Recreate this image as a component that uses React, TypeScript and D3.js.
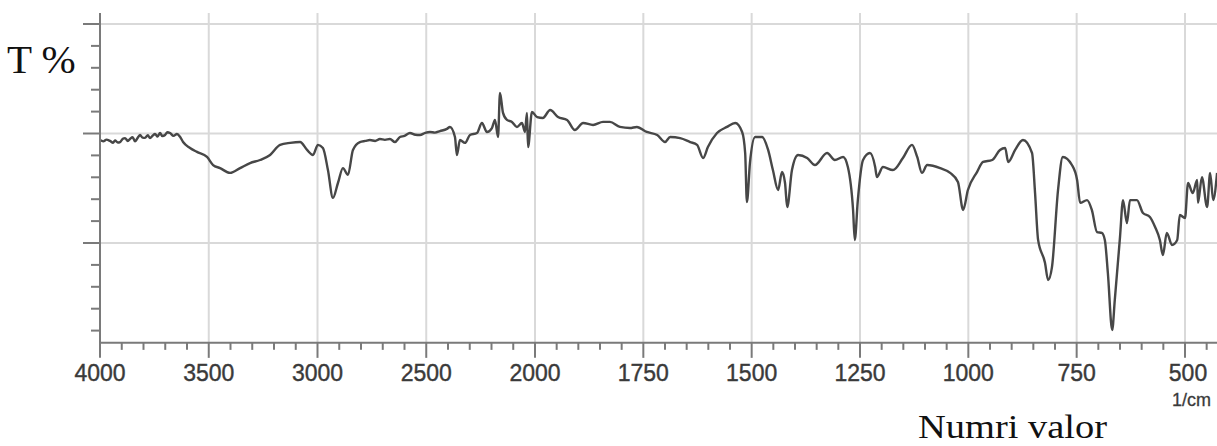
import React from "react";
import * as d3 from "d3";

// Wavenumbers (1/cm) and transmittance (T %, arbitrary scale)
const wavenumbers = [
  4000, 3985, 3970, 3954, 3940, 3931, 3918, 3908, 3895, 3885, 3872, 3862, 3850, 3839, 3828, 3816, 3804, 3793, 3780, 3770,
  3758, 3747, 3735, 3724, 3713, 3701, 3690, 3678, 3662, 3646, 3632,
  3618, 3586, 3554, 3508, 3480, 3448, 3402, 3356, 3310, 3264, 3218, 3172, 3126, 3080, 3048, 3021, 2998, 2975, 2952, 2929,
  2906, 2883, 2860, 2837, 2805, 2780, 2759, 2735, 2713, 2690, 2667, 2644, 2621, 2600, 2575, 2550, 2529, 2505, 2483, 2460,
  2437, 2405, 2391, 2368, 2359, 2345, 2322,
  2299, 2267, 2244, 2221, 2198, 2184, 2170, 2161, 2147, 2129, 2106, 2083, 2060, 2046, 2037, 2032, 2014, 1995, 1982, 1965,
  1947, 1926, 1908, 1889, 1866, 1843, 1827, 1804, 1781, 1765, 1742, 1718, 1700, 1688, 1665, 1642, 1626, 1612, 1601, 1580,
  1557, 1538, 1522, 1515, 1511, 1504, 1492, 1476, 1462, 1451, 1439, 1430, 1423, 1418, 1407, 1393, 1372, 1354, 1326, 1308,
  1289, 1278, 1266, 1262, 1255, 1243, 1227, 1215, 1211, 1197, 1174, 1151, 1130, 1118, 1107, 1095, 1065, 1042, 1024, 1012,
  1001, 980, 966, 945, 927, 915, 908, 892, 874, 853, 846, 839, 823, 816, 807, 793, 782, 761, 749, 742,
  726, 715, 703, 692, 685, 678, 668, 662, 650, 643, 634, 627, 611, 597, 581, 569, 558, 551, 542, 530,
  518, 512, 500, 493, 482, 472, 470, 461, 449, 442, 435, 426,
];
const transmittance = [
  47.0, 46.4, 47.2, 46.6, 45.8, 46.8, 45.9, 46.1, 47.6, 47.9, 46.6, 47.5, 48.3, 46.4, 47.8, 49.3, 48.1, 48.0, 49.2, 47.9,
  49.0, 49.8, 48.6, 50.2, 48.8, 49.3, 50.6, 50.2, 48.9, 49.8, 48.5,
  46.1, 43.4, 41.6, 39.3, 35.6, 34.2, 32.0, 34.2, 36.5, 37.9, 40.2, 44.8, 45.7, 46.1, 42.5, 40.2, 44.8, 43.4, 33.3, 20.6,
  27.4, 34.2, 31.1, 42.5, 46.1, 46.6, 47.0, 46.6, 47.5, 47.1, 47.5, 46.1, 48.4, 48.9, 50.2, 49.4, 49.3, 50.3, 50.7, 50.4,
  51.1, 52.1, 53.0, 48.4, 40.2, 47.0, 45.7,
  49.3, 50.2, 54.8, 50.7, 52.5, 56.2, 48.4, 68.5, 59.4, 56.2, 55.3, 53.0, 54.8, 50.7, 59.4, 43.8, 59.8, 57.5, 57.1, 60.7,
  57.5, 56.2, 51.6, 54.8, 53.9, 55.3, 55.3, 53.0, 52.5, 53.0, 50.7, 49.3, 46.1, 48.4, 47.9, 46.1, 44.8, 38.8, 43.8, 50.2,
  53.0, 54.8, 50.7, 41.1, 18.7, 36.5, 48.4, 48.4, 42.5, 33.3, 24.2, 32.4, 27.4, 16.4, 33.3, 40.2, 38.8, 35.6, 41.1, 37.9,
  39.3, 34.7, 15.1, 1.4, 19.6, 37.9, 41.1, 34.7, 30.1, 34.7, 33.3, 38.8, 44.8, 39.3, 32.0, 35.6, 34.2, 32.0, 27.9, 15.1,
  24.2, 32.4, 37.0, 37.9, 42.5, 43.4, 37.0, 42.5, 47.0, 41.1, 22.8, 1.4, -9.1, -16.9, -11.0, 24.2, 39.3, 35.6, 28.8, 18.3,
  19.6, 15.1, 5.0, 4.6, 1.4, -13.7, -39.7, -26.0, 2.7, 19.6, 9.1, 19.6, 19.6, 13.7, 11.9, 7.3, 1.4, -5.5, 4.6, -0.9,
  1.4, 12.8, 11.4, 27.4, 22.8, 28.8, 18.3, 30.1, 16.4, 32.0, 19.6, 32.0,
];

const xMajorTicks = [4000, 3500, 3000, 2500, 2000, 1750, 1500, 1250, 1000, 750, 500];
const xTickLabels = ["4000", "3500", "3000", "2500", "2000", "1750", "1500", "1250", "1000", "750", "500"];
const yMajorTicks = [100, 50, 0];
const yMinorTicks = [100, 90, 80, 70, 60, 50, 40, 30, 20, 10, 0, -10, -20, -30, -40];
const xMinorTicks = [
  ...d3.range(4000, 2000, -100),
  ...d3.range(2000, 400, -50),
];

export default function App() {
  const W = 1217;
  const H = 446;
  const x = d3.scaleLinear().domain([4000, 2000, 500]).range([100, 535, 1185]);
  const y = d3.scaleLinear().domain([100, 0]).range([24, 243]);
  const yTop = y(105);
  const yBottom = y(-45.6);
  const xLeft = x(4000);

  const pts: [number, number][] = wavenumbers.map((w, i) => [w, transmittance[i]]);
  const line = d3
    .line<[number, number]>()
    .x((d) => x(d[0]))
    .y((d) => y(d[1]))
    .curve(d3.curveMonotoneX);

  const gridColor = "#d9d9d9";
  const axisColor = "#7a7a7a";
  const labelColor = "#3a3a3a";

  return (
    <svg
      width={W}
      height={H}
      style={{ position: "absolute", left: 0, top: 0, background: "#fff" }}
    >
      <rect x={0} y={0} width={W} height={H} fill="#fff" />
      {yMajorTicks.map((v) => (
        <line key={"hg" + v} x1={xLeft} x2={W} y1={y(v)} y2={y(v)} stroke={gridColor} strokeWidth={2} />
      ))}
      {xMajorTicks.slice(1).map((v) => (
        <line key={"vg" + v} x1={x(v)} x2={x(v)} y1={yTop} y2={yBottom} stroke={gridColor} strokeWidth={2} />
      ))}
      <path d={line(pts) || ""} fill="none" stroke="#474747" strokeWidth={2.4} strokeLinejoin="round" />
      <line x1={xLeft} x2={xLeft} y1={yTop} y2={yBottom + 1} stroke={axisColor} strokeWidth={2} />
      {yMinorTicks.map((v) => (
        <line
          key={"yt" + v}
          x1={yMajorTicks.includes(v) ? xLeft - 17 : xLeft - 9}
          x2={xLeft}
          y1={y(v)}
          y2={y(v)}
          stroke={axisColor}
          strokeWidth={2}
        />
      ))}
      <line x1={xLeft - 1} x2={W} y1={yBottom} y2={yBottom} stroke={axisColor} strokeWidth={2} />
      {xMinorTicks.map((v) => (
        <line
          key={"xt" + v}
          x1={x(v)}
          x2={x(v)}
          y1={yBottom}
          y2={xMajorTicks.includes(v) ? yBottom + 15 : yBottom + 7}
          stroke={axisColor}
          strokeWidth={2}
        />
      ))}
      {xMajorTicks.map((v, i) => (
        <text
          key={"xl" + v}
          x={x(v) + (v === 500 ? 3 : 0)}
          y={381}
          textAnchor="middle"
          fontFamily="Liberation Sans, Arial, sans-serif"
          fontSize={23}
          fill={labelColor}
          stroke={labelColor}
          strokeWidth={0.4}
        >
          {xTickLabels[i]}
        </text>
      ))}
      <text
        x={1172}
        y={406}
        fontFamily="Liberation Sans, Arial, sans-serif"
        fontSize={18}
        fill={labelColor}
        stroke={labelColor}
        strokeWidth={0.3}
      >
        1/cm
      </text>
      <text
        x={918}
        y={438}
        fontFamily="Liberation Serif, Times New Roman, serif"
        fontSize={34}
        fill="#111"
        textLength={189}
        lengthAdjust="spacingAndGlyphs"
      >
        Numri valor
      </text>
      <text x={7} y={73} fontFamily="Liberation Serif, Times New Roman, serif" fontSize={41} fill="#111">
        T %
      </text>
    </svg>
  );
}
